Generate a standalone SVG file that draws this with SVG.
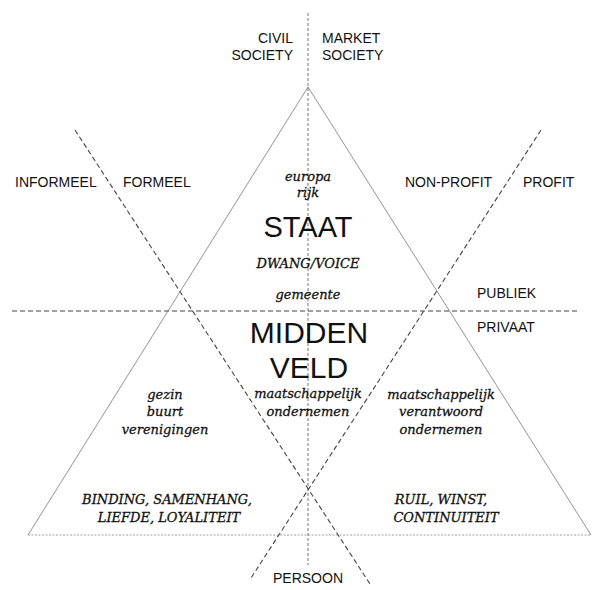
<svg xmlns="http://www.w3.org/2000/svg" width="598" height="590" viewBox="0 0 598 590">
<style>
.sans{font-family:"Liberation Sans",Arial,sans-serif;fill:#111;}
.lab{font-size:14px;}
.big{font-size:30px;}
.ser{font-family:"DejaVu Serif",serif;font-style:italic;font-size:13px;fill:#111;stroke:#111;stroke-width:0.3;text-anchor:middle;}
.tri{stroke:#888;stroke-width:0.9;fill:none;}
.dot{stroke:#999;stroke-width:0.9;stroke-dasharray:2 1.5;fill:none;}
.dash{stroke:#444;stroke-width:1.1;stroke-dasharray:5 3;fill:none;}
.vdash{stroke:#777;stroke-width:1;stroke-dasharray:3 2;fill:none;}
</style>
<rect width="598" height="590" fill="#fff"/>
<g id="connectors">
<line class="tri" x1="308" y1="87" x2="28" y2="535"/>
<line class="tri" x1="308" y1="87" x2="591" y2="535"/>
<line class="dot" x1="28" y1="535" x2="591" y2="535"/>
<line class="vdash" x1="308" y1="13" x2="308" y2="565"/>
<line class="dash" x1="12" y1="311" x2="578" y2="311"/>
<line class="dash" x1="75" y1="130" x2="370" y2="584"/>
<line class="dash" x1="541" y1="130" x2="251" y2="578"/>
</g>
<g id="axis-labels" class="sans lab">
<text x="293" y="43" text-anchor="end">CIVIL</text>
<text x="293" y="60" text-anchor="end">SOCIETY</text>
<text x="322" y="43">MARKET</text>
<text x="322" y="60">SOCIETY</text>
<text x="15" y="187">INFORMEEL</text>
<text x="123" y="187">FORMEEL</text>
<text x="405" y="187">NON-PROFIT</text>
<text x="523" y="187">PROFIT</text>
<text x="477" y="298">PUBLIEK</text>
<text x="477" y="332">PRIVAAT</text>
<text x="308" y="583" text-anchor="middle">PERSOON</text>
</g>
<g id="staat">
<text class="ser" x="308" y="181">europa</text>
<text class="ser" x="308" y="197">rijk</text>
<text class="sans" x="308" y="237" font-size="29" text-anchor="middle">STAAT</text>
<text class="ser" x="308" y="268">DWANG/VOICE</text>
<text class="ser" x="308" y="299">gemeente</text>
</g>
<g id="middenveld">
<text class="sans big" x="309" y="343" text-anchor="middle">MIDDEN</text>
<text class="sans big" x="309" y="378" text-anchor="middle">VELD</text>
<text class="ser" x="308" y="398">maatschappelijk</text>
<text class="ser" x="308" y="416">ondernemen</text>
</g>
<g id="civil">
<text class="ser" x="165" y="399">gezin</text>
<text class="ser" x="165" y="416">buurt</text>
<text class="ser" x="165" y="434">verenigingen</text>
<text class="ser" x="167" y="504">BINDING, SAMENHANG,</text>
<text class="ser" x="169" y="522">LIEFDE, LOYALITEIT</text>
</g>
<g id="market">
<text class="ser" x="441" y="399">maatschappelijk</text>
<text class="ser" x="441" y="416">verantwoord</text>
<text class="ser" x="441" y="434">ondernemen</text>
<text class="ser" x="441" y="504">RUIL, WINST,</text>
<text class="ser" x="446" y="522">CONTINUITEIT</text>
</g>
</svg>
